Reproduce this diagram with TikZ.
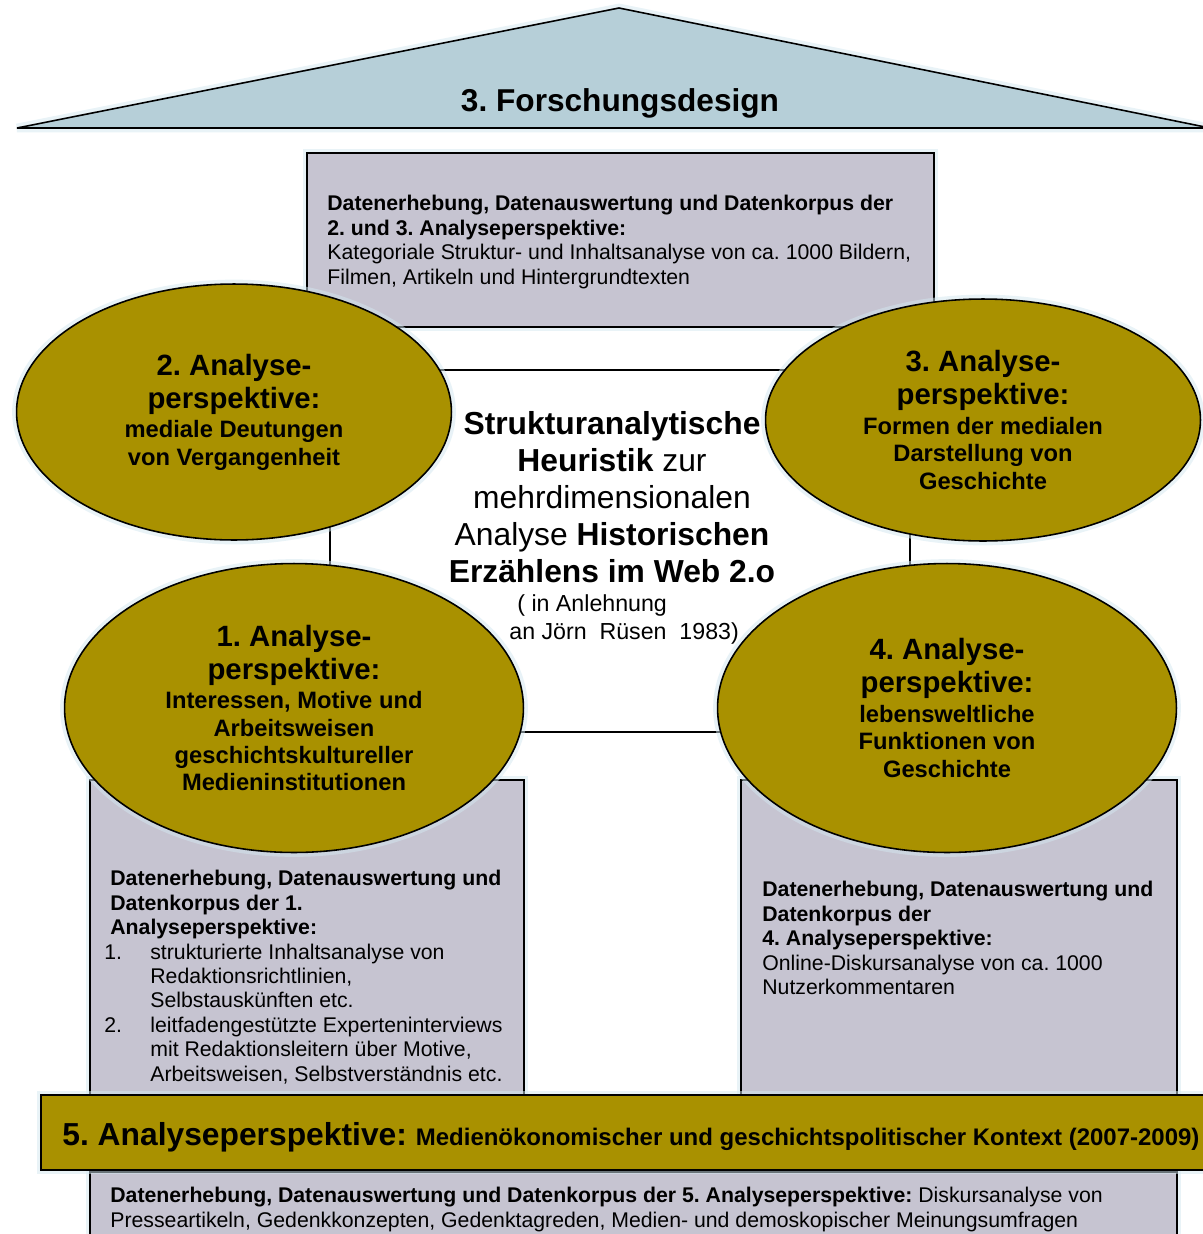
\documentclass[tikz,border=0pt]{standalone}
\usepackage{fontspec}
\setmainfont{Liberation Sans}
\usetikzlibrary{shapes.geometric,positioning}

\definecolor{roofblue}{HTML}{B6CFD8}
\definecolor{boxgrey}{HTML}{C6C4D1}
\definecolor{olive}{HTML}{A99100}
\definecolor{glowblue}{HTML}{D3E7F0}

\newcommand{\headfont}{\fontsize{16.7}{18.7}\selectfont\bfseries}
\newcommand{\subfont}{\fontsize{13.5}{15.6}\selectfont\bfseries}
\newcommand{\boxfont}{\fontsize{12.1}{13.9}\selectfont}

\frenchspacing

\begin{document}
\begin{tikzpicture}[x=0.02cm,y=-0.02cm]

\tikzset{
    glow/.style={preaction={draw=glowblue,line width=5pt,opacity=0.5}},
    persp/.style={ellipse,draw,line width=0.9pt,fill=olive,glow,inner sep=0pt,align=center,font=\subfont},
    databox/.style={rectangle,draw,line width=0.9pt,fill=boxgrey,glow,inner sep=0pt},
    boxtext/.style={align=left,inner sep=0pt,font=\boxfont,anchor=north west}}

\useasboundingbox (0,0) rectangle (1203,1234);
\clip (0,0) rectangle (1203,1234);

\draw[line width=0.9pt,fill=roofblue,glow] (17,128) -- (619,8) -- (1210,128) -- cycle;
\node[anchor=base,inner sep=0pt,font=\fontsize{18}{21}\selectfont\bfseries] (title) at (620,111) {3. Forschungsdesign};

\node[databox,minimum width=12.54cm,minimum height=3.48cm] (box23) at (620.5,240) {};
\node[boxtext] (t23) at (327,195) {\textbf{Datenerhebung, Datenauswertung und Datenkorpus der}\\
\textbf{2. und 3. Analyseperspektive:}\\
Kategoriale Struktur- und Inhaltsanalyse von ca. 1000 Bildern,\\
Filmen, Artikeln und Hintergrundtexten};

\node[rectangle,draw,line width=0.9pt,fill=white,minimum width=11.6cm,minimum height=7.24cm] (core) at (620,551) {};
\node[align=center,inner sep=0pt,font=\fontsize{18.1}{21}\selectfont] (heur) at (612,497) {\textbf{Strukturanalytische}\\
\textbf{Heuristik} zur\\
mehrdimensionalen\\
Analyse \textbf{Historischen}\\
\textbf{Erzählens im Web 2.o}};
\node[boxtext,font=\fontsize{13.2}{15.9}\selectfont] (ruesen) at (509,594) {\hspace*{0.16cm}( in Anlehnung\\
an Jörn~ Rüsen~ 1983)};

\node[persp,minimum width=8.7cm,minimum height=5.12cm] (e2) at (234,412) {\headfont 2. Analyse-\\[3.1pt]
\headfont perspektive:\\[1.2pt]
mediale Deutungen\\
von Vergangenheit};
\node[persp,minimum width=8.7cm,minimum height=4.84cm] (e3) at (983,420) {\headfont 3. Analyse-\\[3.1pt]
\headfont perspektive:\\[1.2pt]
Formen der medialen\\
Darstellung von\\
Geschichte};

\node[databox,minimum width=8.68cm,minimum height=6.4cm] (box1) at (307,940) {};
\node[databox,minimum width=8.72cm,minimum height=6.4cm] (box4) at (959,940) {};

\node[persp,minimum width=9.18cm,minimum height=5.78cm] (e1) at (294,708) {\headfont 1. Analyse-\\[3.1pt]
\headfont perspektive:\\[1.2pt]
Interessen, Motive und\\
Arbeitsweisen\\
geschichtskultureller\\
Medieninstitutionen};
\node[persp,minimum width=9.18cm,minimum height=5.78cm] (e4) at (947,708) {\headfont 4. Analyse-\\[3.1pt]
\headfont perspektive:\\[1.2pt]
lebensweltliche\\
Funktionen von\\
Geschichte};

\node[boxtext] (t1) at (104,870) {\hspace*{0.12cm}\textbf{Datenerhebung, Datenauswertung und}\\
\hspace*{0.12cm}\textbf{Datenkorpus der 1.}\\
\hspace*{0.12cm}\textbf{Analyseperspektive:}\\
\makebox[0.92cm][l]{1.}strukturierte Inhaltsanalyse von\\
\hspace*{0.92cm}Redaktionsrichtlinien,\\
\hspace*{0.92cm}Selbstauskünften etc.\\
\makebox[0.92cm][l]{2.}leitfadengestützte Experteninterviews\\
\hspace*{0.92cm}mit Redaktionsleitern über Motive,\\
\hspace*{0.92cm}Arbeitsweisen, Selbstverständnis etc.};

\node[boxtext] (t4) at (762,881) {\textbf{Datenerhebung, Datenauswertung und}\\
\textbf{Datenkorpus der}\\
\textbf{4. Analyseperspektive:}\\
Online-Diskursanalyse von ca. 1000\\
Nutzerkommentaren};

\node[databox,minimum width=21.74cm,minimum height=1.76cm] (box5) at (633.5,1216) {};
\node[boxtext] (t5) at (110,1187) {\textbf{Datenerhebung, Datenauswertung und Datenkorpus der 5. Analyseperspektive:} Diskursanalyse von\\
Presseartikeln, Gedenkkonzepten, Gedenktagreden, Medien- und demoskopischer Meinungsumfragen};

\node[databox,fill=olive,minimum width=23.58cm,minimum height=1.5cm] (band5) at (630.5,1132.5) {};
\node[anchor=base west,inner sep=0pt,font=\bfseries] (t5head) at (62,1145) {\fontsize{18.1}{21}\selectfont 5. Analyseperspektive: \fontsize{13.65}{16}\selectfont Medienökonomischer und geschichtspolitischer Kontext (2007-2009)};

\end{tikzpicture}
\end{document}
